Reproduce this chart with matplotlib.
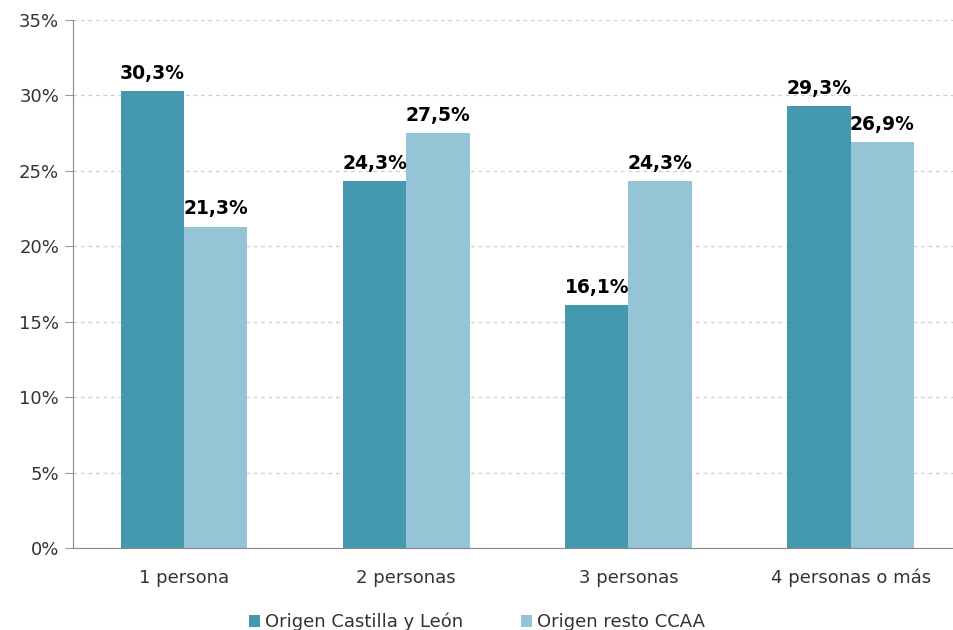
import numpy as np
import matplotlib.pyplot as plt
from matplotlib.ticker import FuncFormatter

# data
categorias = ["1 persona", "2 personas", "3 personas", "4 personas o más"]
castilla_leon = [30.3, 24.3, 16.1, 29.3]
resto_ccaa = [21.3, 27.5, 24.3, 26.9]
series = ["Origen Castilla y León", "Origen resto CCAA"]

col_cyl = "#4499B0"
col_resto = "#94C4D5"
txt = "#333333"

fig = plt.figure(figsize=(9.54, 6.3), dpi=100)
ax = fig.add_axes([73 / 954, 1 - 548 / 630, (954 - 73) / 954, (548 - 20) / 630])

x = np.arange(len(categorias))
w = 0.285
b1 = ax.bar(x - w / 2, castilla_leon, w, color=col_cyl, label=series[0])
b2 = ax.bar(x + w / 2, resto_ccaa, w, color=col_resto, label=series[1])

for bars, vals in [(b1, castilla_leon), (b2, resto_ccaa)]:
    for rect, v in zip(bars, vals):
        ax.text(rect.get_x() + rect.get_width() / 2, v + 0.55,
                f"{v:.1f}%".replace(".", ","), ha="center", va="bottom",
                fontsize=13.5, fontweight="bold", color="black")

ax.set_ylim(0, 35)
ax.set_xlim(-0.5, 3.465)
ax.set_yticks(np.arange(0, 36, 5))
ax.yaxis.set_major_formatter(FuncFormatter(lambda v, p: f"{v:.0f}%"))
ax.set_xticks(x)
ax.set_xticklabels(categorias)
ax.tick_params(axis="x", length=0, pad=15, labelsize=13, labelcolor=txt)
ax.tick_params(axis="y", length=6, color="#999999", labelsize=13, pad=4, labelcolor=txt)
ax.grid(axis="y", linestyle=(0, (3, 3)), color="#CFCFCF", linewidth=0.9)
ax.set_axisbelow(True)
for s in ["top", "right"]:
    ax.spines[s].set_visible(False)
ax.spines["left"].set_color("#888888")
ax.spines["bottom"].set_color("#888888")

fig.legend(loc="lower center", bbox_to_anchor=(0.5, -0.028), ncol=2, frameon=False,
           fontsize=13, handlelength=0.6, handleheight=0.6, handletextpad=0.3,
           columnspacing=3.2, labelcolor=txt)

fig.savefig("out.png", dpi=100)
